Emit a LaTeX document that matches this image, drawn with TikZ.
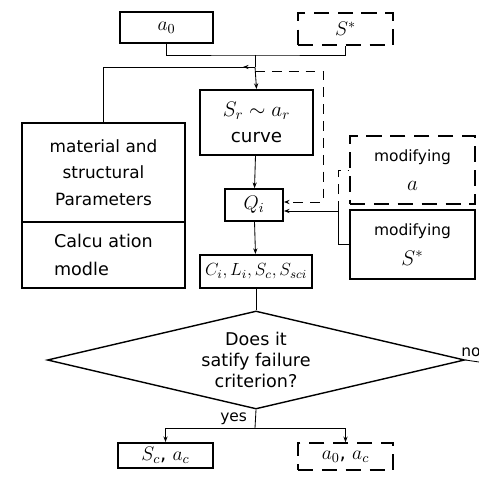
\RequirePackage{fix-cm}
\documentclass[tikz,border=0pt]{standalone}
\usepackage{fontspec}
\setmainfont{DejaVu Sans}
\usepackage{amsmath}
\usetikzlibrary{arrows.meta,shapes.geometric,decorations.markings}

\newcommand{\mgrande}[1]{{\fontsize{15}{18}\selectfont$#1$}}

\begin{document}
\begin{tikzpicture}[x=0.025cm, y=-0.025cm,
	box/.style={draw, rectangle, line width=1.3pt, align=center, font=\fontsize{11}{15}\selectfont, inner sep=2pt},
	dbox/.style={box, line width=1pt, dash pattern=on 11pt off 6pt},
	grande/.style={font=\fontsize{14}{16}\selectfont},
	seta/.style={-{Stealth[length=4pt,width=3pt]}, line width=0.6pt},
	linha/.style={line width=0.6pt},
	tracejado/.style={line width=0.6pt, dash pattern=on 7pt off 5pt},
	setameio/.style={postaction={decorate}, decoration={markings, mark=at position #1 with {\arrow{Stealth[length=4pt,width=3pt]}}}}
	]
	\useasboundingbox (0,0) rectangle (479,478);

	\node[box, grande, minimum width=2.33cm, minimum height=0.78cm] (a0) at (166.5,27.5) {$a_0$};
	\node[dbox, grande, minimum width=2.38cm, minimum height=0.8cm] (sstar) at (345.5,29) {$S^*$};
	\node[box, minimum width=2.83cm, minimum height=1.63cm, font=\fontsize{13}{19}\selectfont] (curve) at (256.5,122.5) {\mgrande{S_r \sim a_r}\\curve};
	\node[box, minimum width=4.08cm, minimum height=2.48cm, font=\fontsize{12}{19}\selectfont] (param) at (103.5,172.5) {material and\\structural\\Parameters};
	\node[box, minimum width=4.08cm, minimum height=1.65cm, align=left, font=\fontsize{12.5}{20}\selectfont] (calc) at (103.5,255) {Calcu ation\\modle};
	\node[box, grande, minimum width=1.45cm, minimum height=0.8cm] (qi) at (254,205) {$Q_i$};
	\node[box, minimum width=2.8cm, minimum height=0.83cm, font=\fontsize{12.5}{15}\selectfont] (ci) at (256,271.5) {$C_i, L_i, S_c, S_{sci}$};
	\node[dbox, minimum width=3.13cm, minimum height=1.7cm, font=\fontsize{11}{21}\selectfont] (moda) at (412.5,170) {modifying\\\mgrande{a}};
	\node[box, minimum width=3.13cm, minimum height=1.73cm, font=\fontsize{11}{21}\selectfont] (mods) at (412.5,244.5) {modifying\\\mgrande{S^*}};
	\node[draw, diamond, line width=1pt, aspect=4.25, inner sep=0pt, minimum width=10.43cm, minimum height=2.45cm, align=center, font=\fontsize{12.5}{15}\selectfont] (crit) at (256,360) {Does it\\satify failure\\criterion?};
	\node[box, grande, minimum width=2.38cm, minimum height=0.63cm] (scac) at (165.5,455.5) {$S_c$, $a_c$};
	\node[dbox, grande, minimum width=2.38cm, minimum height=0.68cm] (a0ac) at (345.5,456.5) {$a_0$, $a_c$};

	\coordinate (topo) at (255,55);
	\coordinate (ramo) at (255,67);
	\coordinate (dtopo) at (255,71);
	\coordinate (dcanto) at (323,202);
	\coordinate (garfo) at (338,211);
	\coordinate (simgarfo) at (255,428);
	\coordinate (naofim) at (479,362);

	\draw[linha] (a0.south) |- (topo) -| (sstar.south);
	\draw[linha] (topo) -- (ramo);
	\draw[seta] (ramo) -- (curve.north);
	\draw[linha, setameio=0.3cm] (ramo) -| (param.north);
	\draw[tracejado, -{Stealth[length=4pt,width=3pt]}] (dtopo) -| (dcanto) -- (qi.east |- dcanto);
	\draw[seta] (garfo) -- (qi.east |- garfo);
	\draw[tracejado] (garfo) |- (moda.west);
	\draw[linha] (garfo) |- (mods.west);
	\draw[seta] (curve) -- (qi);
	\draw[seta] (qi) -- (ci);
	\draw[linha] (ci) -- (crit.north);
	\draw[linha] (crit.south) -- (simgarfo);
	\node[font=\fontsize{11}{13}\selectfont, anchor=east] (sim) at (252,419) {yes};
	\draw[seta] (simgarfo) -| (scac.north);
	\draw[seta] (simgarfo) -| (a0ac.north);
	\draw[linha] (crit.east) -- (naofim);
	\node[font=\fontsize{11}{13}\selectfont, anchor=west, inner sep=0pt] (nao) at (461,352) {no};
\end{tikzpicture}
\end{document}
